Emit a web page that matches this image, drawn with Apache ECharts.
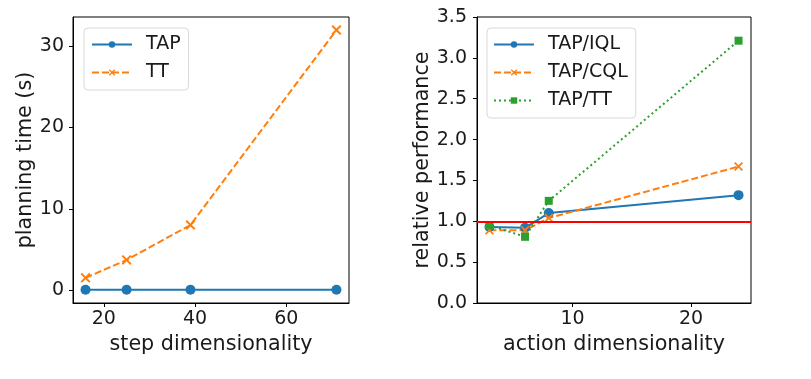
<!DOCTYPE html>
<html>
<head>
<meta charset="utf-8">
<script src="https://cdn.jsdelivr.net/npm/echarts@6/dist/echarts.min.js"></script>
<style>
html,body{margin:0;padding:0;background:#fff;}
#c{width:811px;height:379px;}
</style>
</head>
<body>
<div id="c"></div>
<script>
// Left panel
var stepDims = [16, 25, 39, 71];
var tapTime = [0.04, 0.04, 0.04, 0.04];
var ttTime = [1.5, 3.7, 8.0, 32.0];
var leftXTicks = [20, 40, 60];
var leftYTicks = [0, 10, 20, 30];
// Right panel
var actionDims = [3, 6, 8, 24];
var tapIql = [0.93, 0.92, 1.10, 1.32];
var tapCql = [0.89, 0.89, 1.04, 1.67];
var tapTt = [0.95, 0.81, 1.25, 3.21];
var rightXTicks = [10, 20];
var baseline = 1.0;

function pairs(xs, ys){ return xs.map(function(x,i){ return [x, ys[i]]; }); }

var FONT = 'DejaVu Sans';
var TXT = '#1a1a1a';
var NAME_FS = 20.7;
var TICK_FS = 19;
var X_SYM = 'path://M0,1.4 L1.4,0 L5,3.6 L8.6,0 L10,1.4 L6.4,5 L10,8.6 L8.6,10 L5,6.4 L1.4,10 L0,8.6 L3.6,5 Z';

function xAxis(idx, min, max, ticks, name){
  return {
    type:'value', gridIndex:idx, min:min, max:max,
    name:name, nameLocation:'middle', nameGap:31,
    nameTextStyle:{fontFamily:FONT, fontSize:NAME_FS, color:TXT},
    axisLine:{show:true, onZero:false, lineStyle:{color:'#000', width:1}},
    axisTick:{show:true, inside:false, length:4, lineStyle:{color:'#000'}, customValues:ticks},
    axisLabel:{show:true, margin:7, fontFamily:FONT, fontSize:TICK_FS, color:TXT, customValues:ticks},
    splitLine:{show:false}
  };
}

function legendBox(names, left, pad){
  return {
    data:names, orient:'vertical', left:left, top:28,
    itemWidth:40, itemHeight:8, itemGap:9,
    padding:pad,
    backgroundColor:'rgba(255,255,255,0.8)', borderColor:'#d9d9d9', borderWidth:1, borderRadius:4,
    textStyle:{fontFamily:FONT, fontSize:19, color:TXT, lineHeight:19, padding:[0,0,0,9]}
  };
}

var option = {
  backgroundColor:'#fff',
  animation:false,
  grid:[
    {left:73, top:17, width:276, height:286, show:true, borderColor:'#000', borderWidth:1, backgroundColor:'transparent'},
    {left:477, top:17, width:274, height:286, show:true, borderColor:'#000', borderWidth:1, backgroundColor:'transparent'}
  ],
  xAxis:[
    xAxis(0, 13.25, 73.75, leftXTicks, 'step dimensionality'),
    xAxis(1, 1.95, 25.05, rightXTicks, 'action dimensionality')
  ],
  yAxis:[
    {
      type:'value', gridIndex:0, min:-1.6, max:33.6,
      name:'planning time (s)', nameLocation:'middle', nameGap:36,
      nameTextStyle:{fontFamily:FONT, fontSize:NAME_FS, color:TXT},
      axisLine:{show:true, onZero:false, lineStyle:{color:'#000'}},
      axisTick:{show:true, length:4, lineStyle:{color:'#000'}, customValues:leftYTicks},
      axisLabel:{margin:9, fontFamily:FONT, fontSize:TICK_FS, color:TXT, customValues:leftYTicks},
      splitLine:{show:false}
    },
    {
      type:'value', gridIndex:1, min:0, max:3.5, interval:0.5,
      name:'relative performance', nameLocation:'middle', nameGap:40,
      nameTextStyle:{fontFamily:FONT, fontSize:NAME_FS, color:TXT},
      axisLine:{show:true, onZero:false, lineStyle:{color:'#000'}},
      axisTick:{show:true, length:4, lineStyle:{color:'#000'}},
      axisLabel:{margin:10, fontFamily:FONT, fontSize:TICK_FS, color:TXT, formatter:function(v){return v.toFixed(1);}},
      splitLine:{show:false}
    }
  ],
  legend:[
    legendBox(['TAP','TT'], 84, [7,8,8,7]),
    legendBox(['TAP/IQL','TAP/CQL','TAP/TT'], 487, [7,8,8,6])
  ],
  series:[
    {
      name:'TAP', type:'line', xAxisIndex:0, yAxisIndex:0, data:pairs(stepDims, tapTime),
      symbol:'circle', symbolSize:10, color:'#1f77b4',
      lineStyle:{width:2, color:'#1f77b4'}, itemStyle:{color:'#1f77b4'}, z:3
    },
    {
      name:'TT', type:'line', xAxisIndex:0, yAxisIndex:0, data:pairs(stepDims, ttTime),
      symbol:X_SYM, symbolSize:10, color:'#ff7f0e',
      lineStyle:{width:2, color:'#ff7f0e', type:[7,3]}, itemStyle:{color:'#ff7f0e'}, z:3
    },
    {
      name:'TAP/IQL', type:'line', xAxisIndex:1, yAxisIndex:1, data:pairs(actionDims, tapIql),
      symbol:'circle', symbolSize:10, color:'#1f77b4',
      lineStyle:{width:2, color:'#1f77b4'}, itemStyle:{color:'#1f77b4'}, z:3,
      markLine:{
        silent:true, symbol:['none','none'], label:{show:false},
        lineStyle:{color:'#ff0000', width:2, type:'solid'},
        data:[{yAxis:baseline}], z:5
      }
    },
    {
      name:'TAP/CQL', type:'line', xAxisIndex:1, yAxisIndex:1, data:pairs(actionDims, tapCql),
      symbol:X_SYM, symbolSize:9, color:'#ff7f0e',
      lineStyle:{width:2, color:'#ff7f0e', type:[7,3]}, itemStyle:{color:'#ff7f0e'}, z:3
    },
    {
      name:'TAP/TT', type:'line', xAxisIndex:1, yAxisIndex:1, data:pairs(actionDims, tapTt),
      symbol:'rect', symbolSize:8, color:'#2ca02c',
      lineStyle:{width:2, color:'#2ca02c', type:[2,3]}, itemStyle:{color:'#2ca02c'}, z:3
    }
  ]
};

var chart = echarts.init(document.getElementById('c'), null, {renderer:'canvas'});
chart.setOption(option);
</script>
</body>
</html>
